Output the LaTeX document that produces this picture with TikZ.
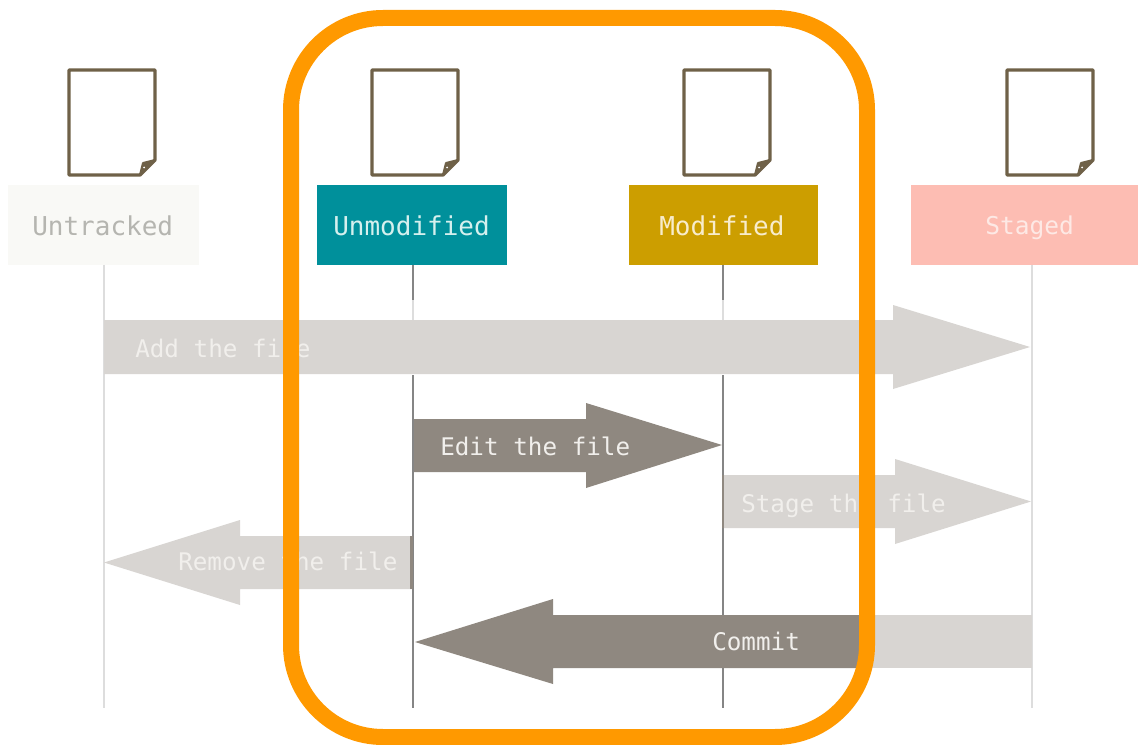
\documentclass[tikz,border=0pt]{standalone}
\usepackage{fontspec}
\setmonofont{DejaVu Sans Mono}
\definecolor{docline}{HTML}{6F6148}
\definecolor{frameorange}{HTML}{FF9900}
\definecolor{arrowlight}{HTML}{D8D5D2}
\definecolor{arrowdark}{HTML}{8F8880}
\definecolor{linelight}{HTML}{DDDDDD}
\definecolor{linedark}{HTML}{858585}
\definecolor{textlight}{HTML}{F1EFEC}
\tikzset{
  statebox/.style={minimum height=60pt,inner sep=0pt,outer sep=0pt,anchor=north west},
  statetext/.style={anchor=base west,inner sep=0pt,font=\ttfamily\fontsize{19.5}{22}\selectfont},
  arrowtext/.style={anchor=base west,inner sep=0pt,text=textlight,font=\ttfamily\fontsize{18.2}{22}\selectfont},
  lifelight/.style={draw=linelight,line width=1.5pt},
  lifedark/.style={draw=linedark,line width=1.5pt},
  blocklight/.style={fill=arrowlight},
  blockdark/.style={fill=arrowdark},
  docicon/.pic={
    \draw[docline,line width=2.5pt,line join=round,fill=white]
      (0,0) -- (86,0) -- (86,90) -- (71,105) -- (0,105) -- cycle;
    \fill[docline,draw=docline,line width=1.5pt,line join=round]
      (71,105) -- (74,93) -- (86,90) -- cycle;
    \fill[white] (75,97.5) circle (1);
  }
}
\begin{document}
\begin{tikzpicture}[x=0.75pt,y=-0.75pt]
\useasboundingbox (0,0) rectangle (1138,745);
\fill[white] (0,0) rectangle (1138,745);

% file icons
\pic at (69,70) {docicon};
\pic at (372,70) {docicon};
\pic at (684,70) {docicon};
\pic at (1007,70) {docicon};

% state boxes
\node[statebox,minimum width=143.25pt,fill={rgb,255:red,249;green,249;blue,246}] (untracked) at (8,185) {};
\node[statebox,minimum width=142.5pt,fill={rgb,255:red,0;green,144;blue,155}] (unmodified) at (317,185) {};
\node[statebox,minimum width=141.75pt,fill={rgb,255:red,204;green,158;blue,0}] (modified) at (629,185) {};
\node[statebox,minimum width=170.25pt,fill={rgb,255:red,253;green,189;blue,179}] (staged) at (911,185) {};

\node[statetext,text={rgb,255:red,181;green,181;blue,176}] (tuntracked) at (32,236) {Untracked};
\node[statetext,text={rgb,255:red,213;green,240;blue,238}] (tunmodified) at (333,236) {Unmodified};
\node[statetext,text={rgb,255:red,248;green,236;blue,203}] (tmodified) at (659,236) {Modified};
\node[statetext,font=\ttfamily\fontsize{18.4}{22}\selectfont,text={rgb,255:red,253;green,233;blue,229}] (tstaged) at (985,235) {Staged};

% lifelines
\coordinate (untrackedend) at (103.5,708);
\coordinate (stagedend) at (1032,708);
\coordinate (unmodA) at (413,300);
\coordinate (unmodB) at (413,320);
\coordinate (unmodC) at (413,375);
\coordinate (unmodend) at (413,708);
\coordinate (modA) at (722.5,300);
\coordinate (modB) at (722.5,320);
\coordinate (modC) at (722.5,375);
\coordinate (modend) at (722.5,708);
\draw[lifelight] (untracked.south -| untrackedend) -- (untrackedend);
\draw[lifelight] (staged.south -| stagedend) -- (stagedend);
\draw[lifedark] (unmodified.south -| unmodA) -- (unmodA);
\draw[lifelight] (unmodA) -- (unmodB);
\draw[lifedark] (unmodC) -- (unmodend);
\draw[lifedark] (modified.south -| modA) -- (modA);
\draw[lifelight] (modA) -- (modB);
\draw[lifedark] (modC) -- (modend);

% block arrows
\fill[blocklight] (104,320) -- (893,320) -- (893,305) -- (1030,347) -- (893,389) -- (893,374) -- (104,374) -- cycle;
\fill[blockdark] (414,419) -- (586,419) -- (586,403) -- (722,445) -- (586,488) -- (586,472) -- (414,472) -- cycle;
\fill[blocklight] (724,475) -- (895,475) -- (895,459) -- (1031,501.5) -- (895,544) -- (895,528) -- (724,528) -- cycle;
\fill[blocklight] (412,536) -- (240,536) -- (240,520) -- (104,562.5) -- (240,605) -- (240,589) -- (412,589) -- cycle;
\fill[blocklight] (1032,615) -- (860,615) -- (860,668) -- (1032,668) -- cycle;
\fill[blockdark] (860,615) -- (553,615) -- (553,599) -- (415,642) -- (553,684) -- (553,668) -- (860,668) -- cycle;
\fill[arrowdark] (721.5,475) rectangle (724,528);
\fill[arrowdark] (410,536) rectangle (413,589);

\node[arrowtext] (tadd) at (135,357) {Add the file};
\node[arrowtext] (tedit) at (440,455) {Edit the file};
\node[arrowtext] (tstage) at (741,512) {Stage the file};
\node[arrowtext] (tremove) at (178,570) {Remove the file};
\node[arrowtext] (tcommit) at (712,650) {Commit};

% highlight frame
\draw[frameorange,line width=12pt,rounded corners=69pt] (291,18) rectangle (867,737);
\end{tikzpicture}
\end{document}
